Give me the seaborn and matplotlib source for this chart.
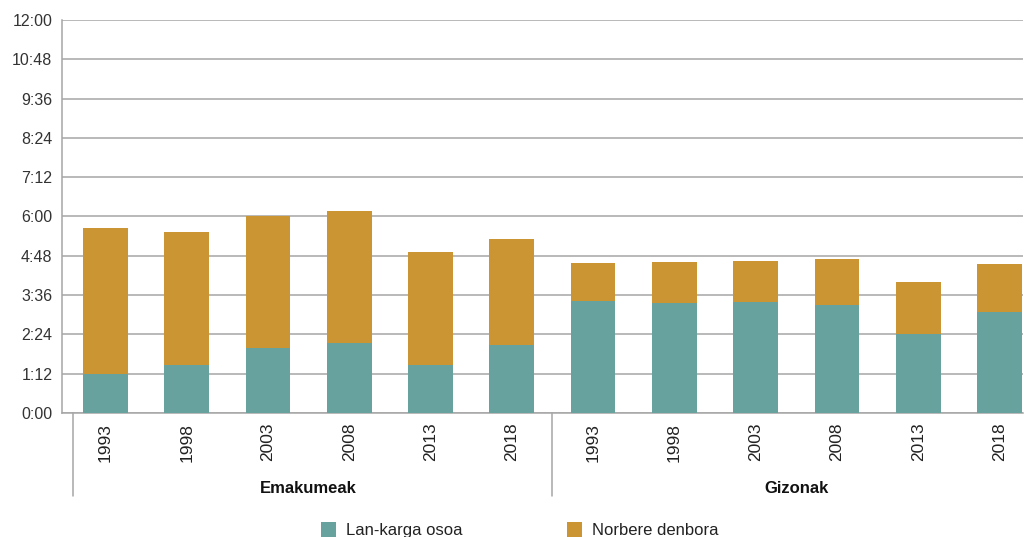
import matplotlib
matplotlib.use("Agg")
import matplotlib.pyplot as plt
import seaborn as sns
import pandas as pd
from matplotlib.patches import Patch

# Daily time in minutes, by sex and survey year
groups = ["Emakumeak", "Gizonak"]
years = ["1993", "1998", "2003", "2008", "2013", "2018"]
work_women = [72, 88, 120, 129, 88, 125]          # Lan-karga osoa
personal_women = [267, 244, 241, 241, 207, 194]   # Norbere denbora
work_men = [206, 202, 204, 198, 145, 185]
personal_men = [69, 75, 75, 84, 95, 88]

series_names = ["Lan-karga osoa", "Norbere denbora"]
teal = "#67A29F"
gold = "#CC9533"

rows = []
for g, work, pers in [(groups[0], work_women, personal_women),
                      (groups[1], work_men, personal_men)]:
    for y, w, p in zip(years, work, pers):
        rows.append({"key": f"{g} {y}", "group": g, "year": y,
                     "work": w, "total": w + p})
df = pd.DataFrame(rows)
order = list(df["key"])

sns.set_style("white")
plt.rcParams["font.family"] = ["Liberation Sans", "DejaVu Sans"]

fig = plt.figure(figsize=(10.27, 5.37), dpi=100)
W, H = 1027, 537
ax = fig.add_axes([62 / W, 1 - 413 / H, (1023 - 62) / W, (413 - 20) / H])

sns.barplot(data=df, x="key", y="total", order=order, color=gold,
            width=0.55, saturation=1, linewidth=0, ax=ax, zorder=3)
sns.barplot(data=df, x="key", y="work", order=order, color=teal,
            width=0.55, saturation=1, linewidth=0, ax=ax, zorder=4)

ax.set_ylim(0, 720)
ax.set_xlim(-0.535, 11.29)
yt = list(range(0, 721, 72))
ax.set_yticks(yt)
ax.set_yticklabels([f"{v // 60}:{v % 60:02d}" for v in yt],
                   fontsize=11.5, color="#333333")
ax.yaxis.grid(True, color="#A6A6A6", linewidth=1.1, zorder=0)
ax.set_axisbelow(True)
ax.tick_params(axis="y", length=0, pad=7)

ax.set_xticks(range(len(order)))
ax.set_xticklabels(list(df["year"]), fontsize=12.5, color="#222222")
for lbl in ax.get_xticklabels():
    lbl.set_rotation(90)
    lbl.set_rotation_mode("anchor")
    lbl.set_ha("right")
    lbl.set_va("center")
ax.tick_params(axis="x", length=0, pad=7)
ax.set_xlabel("")
ax.set_ylabel("")

for s in ["top", "right"]:
    ax.spines[s].set_visible(False)
for s in ["left", "bottom"]:
    ax.spines[s].set_color("#A6A6A6")
    ax.spines[s].set_linewidth(1.1)

# Group separators and labels below the year labels
trans = ax.get_xaxis_transform()
for xsep in [-0.4, 5.5]:
    ax.plot([xsep, xsep], [0, -0.21], transform=trans, color="#A6A6A6",
            linewidth=1.1, clip_on=False)
for i, g in enumerate(groups):
    ax.text(2.5 + 6 * i, -0.192, g, transform=trans, ha="center",
            va="center", fontsize=12, fontweight="bold", color="#111111")

handles = [Patch(facecolor=teal, edgecolor="none"),
           Patch(facecolor=gold, edgecolor="none")]
fig.legend(handles, series_names, loc="center", ncol=2,
           bbox_to_anchor=(0.506, 0.013), frameon=False, fontsize=12,
           handlelength=0.9, handleheight=1.1, handletextpad=0.6,
           columnspacing=6.3, labelcolor="#222222")

fig.savefig("out.png", dpi=100)
